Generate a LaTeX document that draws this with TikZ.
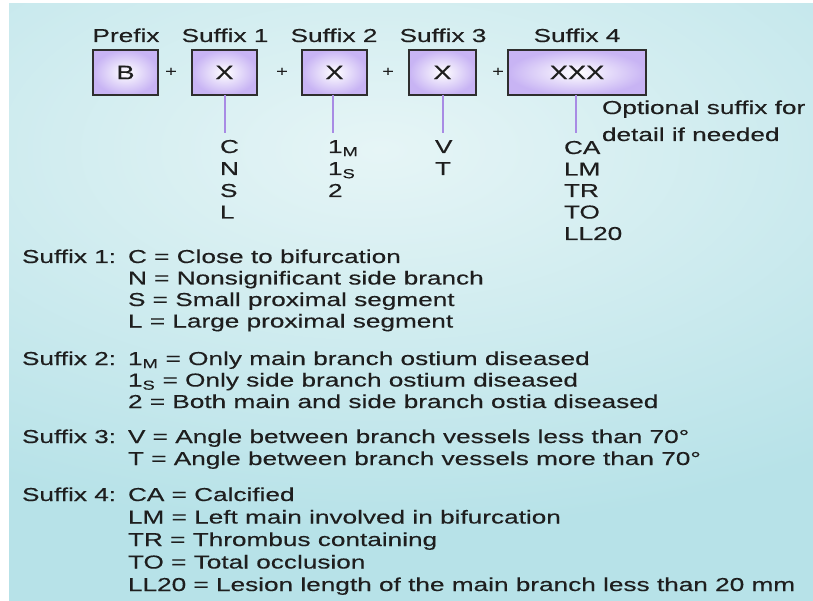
\documentclass[tikz,border=0pt]{standalone}
\usepackage{fontspec}
\setmainfont{Liberation Sans}[FakeStretch=1.40,FakeBold=0.35]
\definecolor{ink}{HTML}{1E1E1E}
\definecolor{bgc}{HTML}{B7E2E8}
\definecolor{bglight}{HTML}{E6F5F6}
\definecolor{lav}{HTML}{C8B4F4}
\definecolor{boxline}{HTML}{2E2E2E}
\definecolor{stemc}{HTML}{A88BE4}
\begin{document}
\begin{tikzpicture}[x=1pt,y=-1pt,
  every node/.style={inner sep=0pt, outer sep=0pt, text=ink},
  txt/.style={anchor=base west, font=\fontsize{18.7}{22}\selectfont},
  head/.style={anchor=base, font=\fontsize{18.7}{22}\selectfont},
  codebox/.style={draw=boxline, line width=1.7pt, minimum height=45pt,
    inner color=white, outer color=lav, font=\fontsize{19.5}{22}\selectfont},
  plus/.style={font=\fontsize{14}{16}\selectfont},
  stem/.style={draw=stemc, line width=2pt}]
\useasboundingbox (0,0) rectangle (813,601);

% background panel with a soft light glow behind the code row
\fill[bgc] (9,4) rectangle (813,601);
\begin{scope}
  \clip (9,4) rectangle (813,601);
  \shade[inner color=bglight, outer color=bgc] (380,150) ellipse [x radius=760, y radius=380];
\end{scope}

% headings
\node[head] (hpre) at (126,42) {Prefix};
\node[head] (hs1) at (225,42) {Suffix 1};
\node[head] (hs2) at (334,42) {Suffix 2};
\node[head] (hs3) at (443,42) {Suffix 3};
\node[head] (hs4) at (577,42) {Suffix 4};

% code boxes
\node[codebox, minimum width=65pt] (pre) at (125.5,72.5) {B};
\node[codebox, minimum width=65pt] (s1) at (224.5,72.5) {X};
\node[codebox, minimum width=65pt] (s2) at (334.5,72.5) {X};
\node[codebox, minimum width=67pt] (s3) at (442.5,72.5) {X};
\node[codebox, minimum width=138pt] (s4) at (577,72.5) {XXX};

% plus signs
\node[plus] (p1) at (171,72) {+};
\node[plus] (p2) at (282,72) {+};
\node[plus] (p3) at (388,72) {+};
\node[plus] (p4) at (498,72) {+};

% stems down to the option lists
\coordinate (e1) at (225,133);
\coordinate (e2) at (333,133);
\coordinate (e3) at (443,133);
\coordinate (e4) at (576,133);
\draw[stem] (s1.south -| e1) -- (e1);
\draw[stem] (s2.south -| e2) -- (e2);
\draw[stem] (s3.south -| e3) -- (e3);
\draw[stem] (s4.south -| e4) -- (e4);

% option lists
\node[txt] (c1a) at (220,153) {C};
\node[txt] (c1b) at (220,175) {N};
\node[txt] (c1c) at (220,197) {S};
\node[txt] (c1d) at (220,218.5) {L};

\node[txt] (c2a) at (328,153) {1\textsubscript{M}};
\node[txt] (c2b) at (328,175) {1\textsubscript{S}};
\node[txt] (c2c) at (328,197) {2};

\node[txt] (c3a) at (435,153) {V};
\node[txt] (c3b) at (435,175) {T};

\node[txt] (c4a) at (564,154) {CA};
\node[txt] (c4b) at (564,175.5) {LM};
\node[txt] (c4c) at (564,197) {TR};
\node[txt] (c4d) at (564,218.5) {TO};
\node[txt] (c4e) at (564,240) {LL20};

\node[txt] (opt1) at (602,114) {Optional suffix for};
\node[txt] (opt2) at (602,141) {detail if needed};

% legend
\node[txt] (l1) at (22,263) {Suffix 1:};
\node[txt] (l1a) at (128,263) {C = Close to bifurcation};
\node[txt] (l1b) at (128,284.5) {N = Nonsignificant side branch};
\node[txt] (l1c) at (128,306) {S = Small proximal segment};
\node[txt] (l1d) at (128,327.5) {L = Large proximal segment};

\node[txt] (l2) at (22,365) {Suffix 2:};
\node[txt] (l2a) at (128,365) {1\textsubscript{M} = Only main branch ostium diseased};
\node[txt] (l2b) at (128,386.5) {1\textsubscript{S} = Only side branch ostium diseased};
\node[txt] (l2c) at (128,408) {2 = Both main and side branch ostia diseased};

\node[txt] (l3) at (22,443) {Suffix 3:};
\node[txt] (l3a) at (128,443) {V = Angle between branch vessels less than 70°};
\node[txt] (l3b) at (128,465) {T = Angle between branch vessels more than 70°};

\node[txt] (l4) at (22,501) {Suffix 4:};
\node[txt] (l4a) at (128,501) {CA = Calcified};
\node[txt] (l4b) at (128,523.5) {LM = Left main involved in bifurcation};
\node[txt] (l4c) at (128,546) {TR = Thrombus containing};
\node[txt] (l4d) at (128,568.5) {TO = Total occlusion};
\node[txt] (l4e) at (128,591) {LL20 = Lesion length of the main branch less than 20 mm};
\end{tikzpicture}
\end{document}
